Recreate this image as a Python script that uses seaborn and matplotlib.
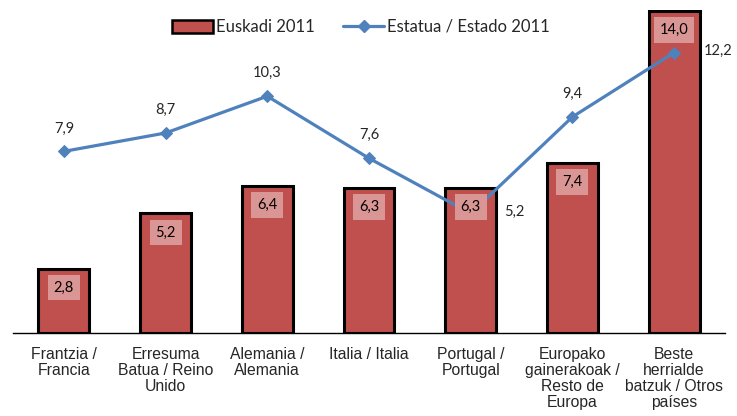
import matplotlib
matplotlib.use("Agg")
import matplotlib.pyplot as plt
import seaborn as sns
import numpy as np
import pandas as pd
from matplotlib.patches import Patch
from matplotlib.lines import Line2D

categories = ["Frantzia /\nFrancia", "Erresuma\nBatua / Reino\nUnido", "Alemania /\nAlemania",
              "Italia / Italia", "Portugal /\nPortugal", "Europako\ngainerakoak /\nResto de\nEuropa",
              "Beste\nherrialde\nbatzuk / Otros\npaíses"]
euskadi = [2.8, 5.2, 6.4, 6.3, 6.3, 7.4, 14.0]
estado = [7.9, 8.7, 10.3, 7.6, 5.2, 9.4, 12.2]
series_names = ["Euskadi 2011", "Estatua / Estado 2011"]

bar_color = "#C0504D"
line_color = "#4F81BD"
num_font = "Lato"

sns.set_style("white")
plt.rcParams['font.family'] = ['Liberation Sans', 'DejaVu Sans']

fig = plt.figure(figsize=(7.37, 4.16), dpi=100)
ax = fig.add_axes([13/737, 83/416, 712/737, 323/416])

df = pd.DataFrame({"cat": categories, "val": euskadi})
sns.barplot(data=df, x="cat", y="val", color=bar_color, edgecolor="black",
            linewidth=2.2, width=0.5, saturation=1, ax=ax, zorder=2)
xs = np.arange(len(categories))
sns.lineplot(x=xs, y=estado, color=line_color, linewidth=2.3, marker="D",
             markersize=6, markeredgecolor=line_color, ax=ax, zorder=3)

ax.set_ylim(0, 14.05)
ax.set_xlim(-0.5, len(categories) - 0.5)
ax.set_xlabel("")
ax.set_ylabel("")
ax.set_yticks([])
for s in ["left", "right", "top"]:
    ax.spines[s].set_visible(False)
ax.spines["bottom"].set_color("black")
ax.spines["bottom"].set_linewidth(1)

ax.tick_params(axis="x", which="major", length=0, pad=10)
ax.set_xticks(xs)
ax.set_xticklabels(categories, fontsize=11.3, linespacing=1.08, va="top")
ax.set_xticks(np.arange(-0.5, len(categories)), minor=True)
ax.tick_params(axis="x", which="minor", length=7, direction="inout", color="#555555", width=1)

# bar value labels
for i, v in enumerate(euskadi):
    ax.annotate(f"{v:.1f}".replace(".", ","), xy=(i, v), xytext=(0, -13.7),
                textcoords="offset points", ha="center", va="center",
                fontsize=10.5, family=num_font, color="black", zorder=10,
                bbox=dict(boxstyle="square,pad=0.4", fc="#DA9694", ec="none"))

# line value labels
for i, v in enumerate(estado):
    label = f"{v:.1f}".replace(".", ",")
    if i in (4, 6):
        ax.annotate(label, xy=(i, v), xytext=(31.5, 1), textcoords="offset points",
                    ha="center", va="center", fontsize=10.5, family=num_font, zorder=10)
    else:
        ax.annotate(label, xy=(i, v), xytext=(0, 16.5), textcoords="offset points",
                    ha="center", va="center", fontsize=10.5, family=num_font, zorder=10)

handles = [Patch(facecolor=bar_color, edgecolor="black", linewidth=1.8),
           Line2D([0], [0], color=line_color, lw=2.3, marker="D", markersize=6)]
fig.legend(handles, series_names, loc="center", bbox_to_anchor=(361/737, 1 - 27/416),
           ncol=2, frameon=False, prop={"family": num_font, "size": 12},
           handlelength=2.45, handleheight=0.85, handletextpad=0.2, columnspacing=1.7)

fig.savefig("out.png", dpi=100)
